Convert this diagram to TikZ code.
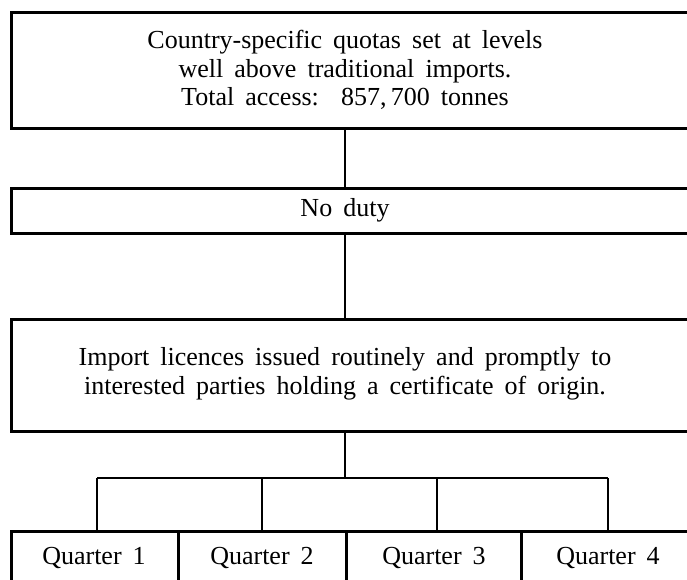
\documentclass[tikz,border=0pt]{standalone}
\usepackage{fontspec}
\setmainfont{Liberation Serif}[WordSpace=1.7]
\begin{document}
\begin{tikzpicture}[x=1pt,y=-1pt,
  box/.style={draw, line width=2.6pt, inner sep=0pt, anchor=north west},
  txt/.style={align=center, font=\fontsize{26}{28.5}\selectfont, inner sep=0pt},
  conn/.style={line width=2.6pt}]
\useasboundingbox (0,0) rectangle (687,579);
% boxes
\node[box, minimum width=700pt, minimum height=116pt] (top) at (10,11) {};
\node[box, minimum width=700pt, minimum height=45pt] (duty) at (10,187) {};
\node[box, minimum width=700pt, minimum height=112pt] (imp) at (10,318) {};
\node[box, minimum width=167pt, minimum height=80pt] (q1) at (10,530) {};
\node[box, minimum width=168pt, minimum height=80pt] (q2) at (177,530) {};
\node[box, minimum width=175pt, minimum height=80pt] (q3) at (345,530) {};
\node[box, minimum width=190pt, minimum height=80pt] (q4) at (520,530) {};
% texts
\node[txt] (toptext) at (345,70) {Country-specific quotas set at levels\\well above traditional imports.\\Total access:\ \ 857,\,700 tonnes};
\node[txt] (dutytext) at (345,210) {No duty};
\node[txt] (imptext) at (345,374) {Import licences issued routinely and promptly to\\interested parties holding a certificate of origin.};
\node[txt] (q1t) at (94,558) {Quarter 1};
\node[txt] (q2t) at (262,558) {Quarter 2};
\node[txt] (q3t) at (434,558) {Quarter 3};
\node[txt] (q4t) at (608,558) {Quarter 4};
% connectors
\coordinate (bar) at (345,478);
\coordinate (b1) at (97,478);
\coordinate (b2) at (262,478);
\coordinate (b3) at (437,478);
\coordinate (b4) at (608,478);
\draw[conn] (top.south -| toptext) -- (duty.north -| toptext);
\draw[conn] (duty.south -| dutytext) -- (imp.north -| dutytext);
\draw[conn] (imp.south -| imptext) -- (bar);
\draw[conn] (b1) -- (b4);
\draw[conn] (b1) -- (q1.north -| b1);
\draw[conn] (b2) -- (q2.north -| b2);
\draw[conn] (b3) -- (q3.north -| b3);
\draw[conn] (b4) -- (q4.north -| b4);
\end{tikzpicture}
\end{document}
